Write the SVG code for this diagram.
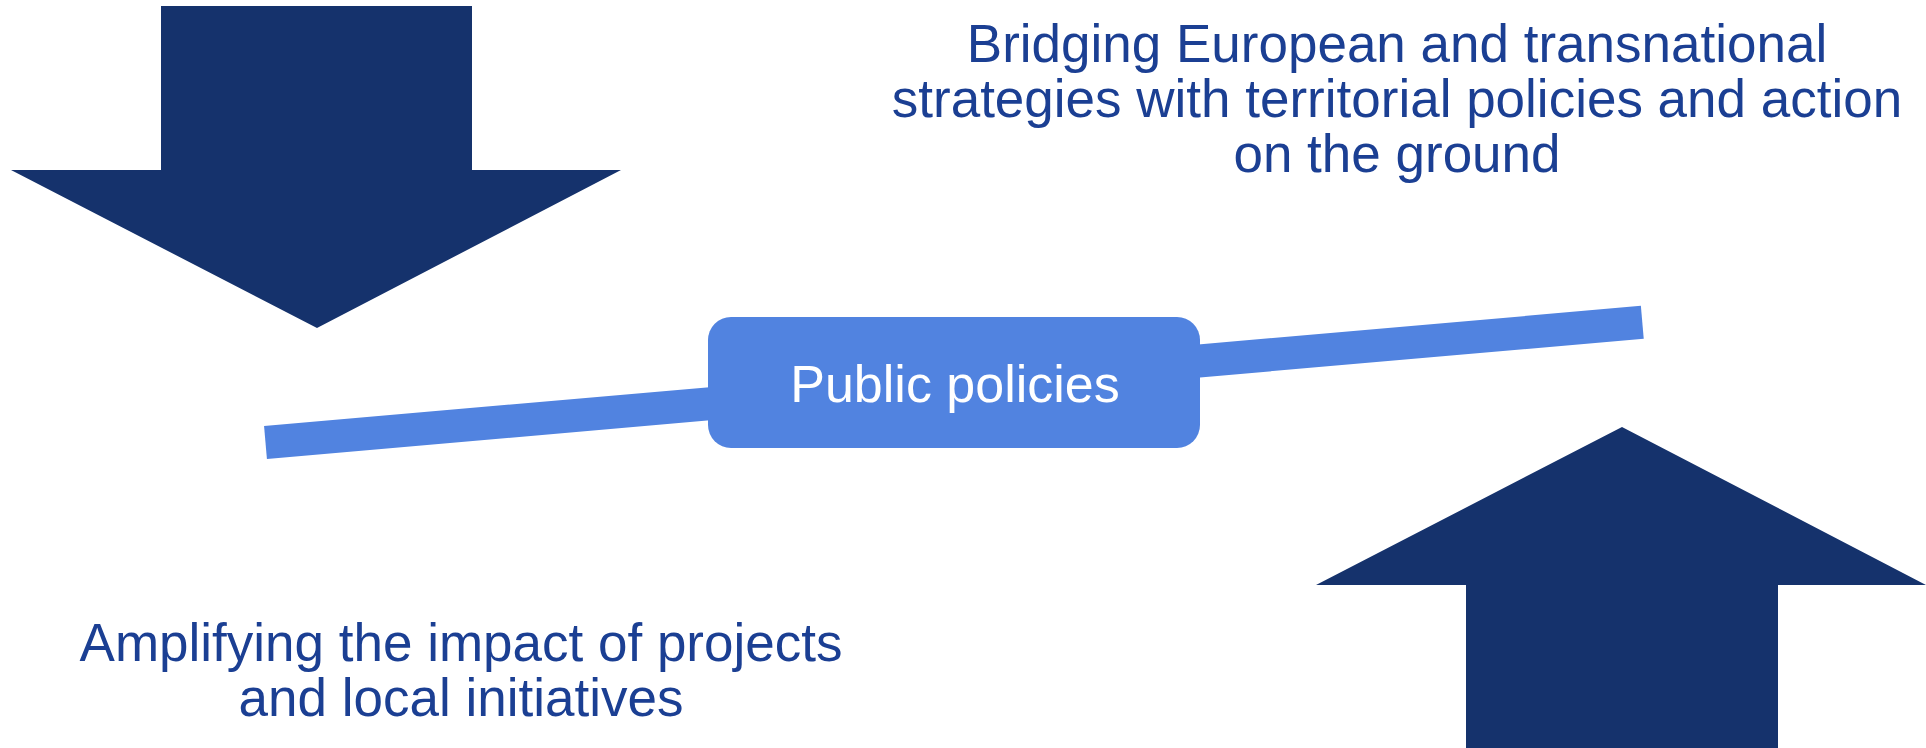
<svg xmlns="http://www.w3.org/2000/svg" width="1926" height="748" viewBox="0 0 1926 748">
  <style>
    .arrow { fill: #15326C; }
    .label { font-family: "Liberation Sans", Arial, sans-serif; font-size: 53px; fill: #1B3F93; text-anchor: middle; }
    .node-text { font-family: "Liberation Sans", Arial, sans-serif; font-size: 52px; fill: #FFFFFF; text-anchor: middle; }
    .link { stroke: #5183E0; stroke-width: 33; stroke-linecap: butt; fill: none; }
  </style>
  <rect width="1926" height="748" fill="#FFFFFF"/>
  <g id="connectors">
    <line class="link" x1="265.5" y1="442.5" x2="1642.3" y2="322.3"/>
  </g>
  <g id="arrow-down">
    <polygon class="arrow" points="161,6 472,6 472,170 621,170 317,328 11,170 161,170"/>
  </g>
  <g id="arrow-up">
    <polygon class="arrow" points="1622,427 1926,585 1778,585 1778,748 1466,748 1466,585 1316,585"/>
  </g>
  <g id="node-public-policies">
    <rect x="708" y="317" width="492" height="131" rx="23" ry="23" fill="#5183E0"/>
    <text class="node-text" x="955" y="402">Public policies</text>
  </g>
  <g id="label-top">
    <text class="label" x="1397" y="62">Bridging European and transnational</text>
    <text class="label" x="1397" y="117">strategies with territorial policies and action</text>
    <text class="label" x="1397" y="172">on the ground</text>
  </g>
  <g id="label-bottom">
    <text class="label" x="461" y="661">Amplifying the impact of projects</text>
    <text class="label" x="461" y="716">and local initiatives</text>
  </g>
</svg>
